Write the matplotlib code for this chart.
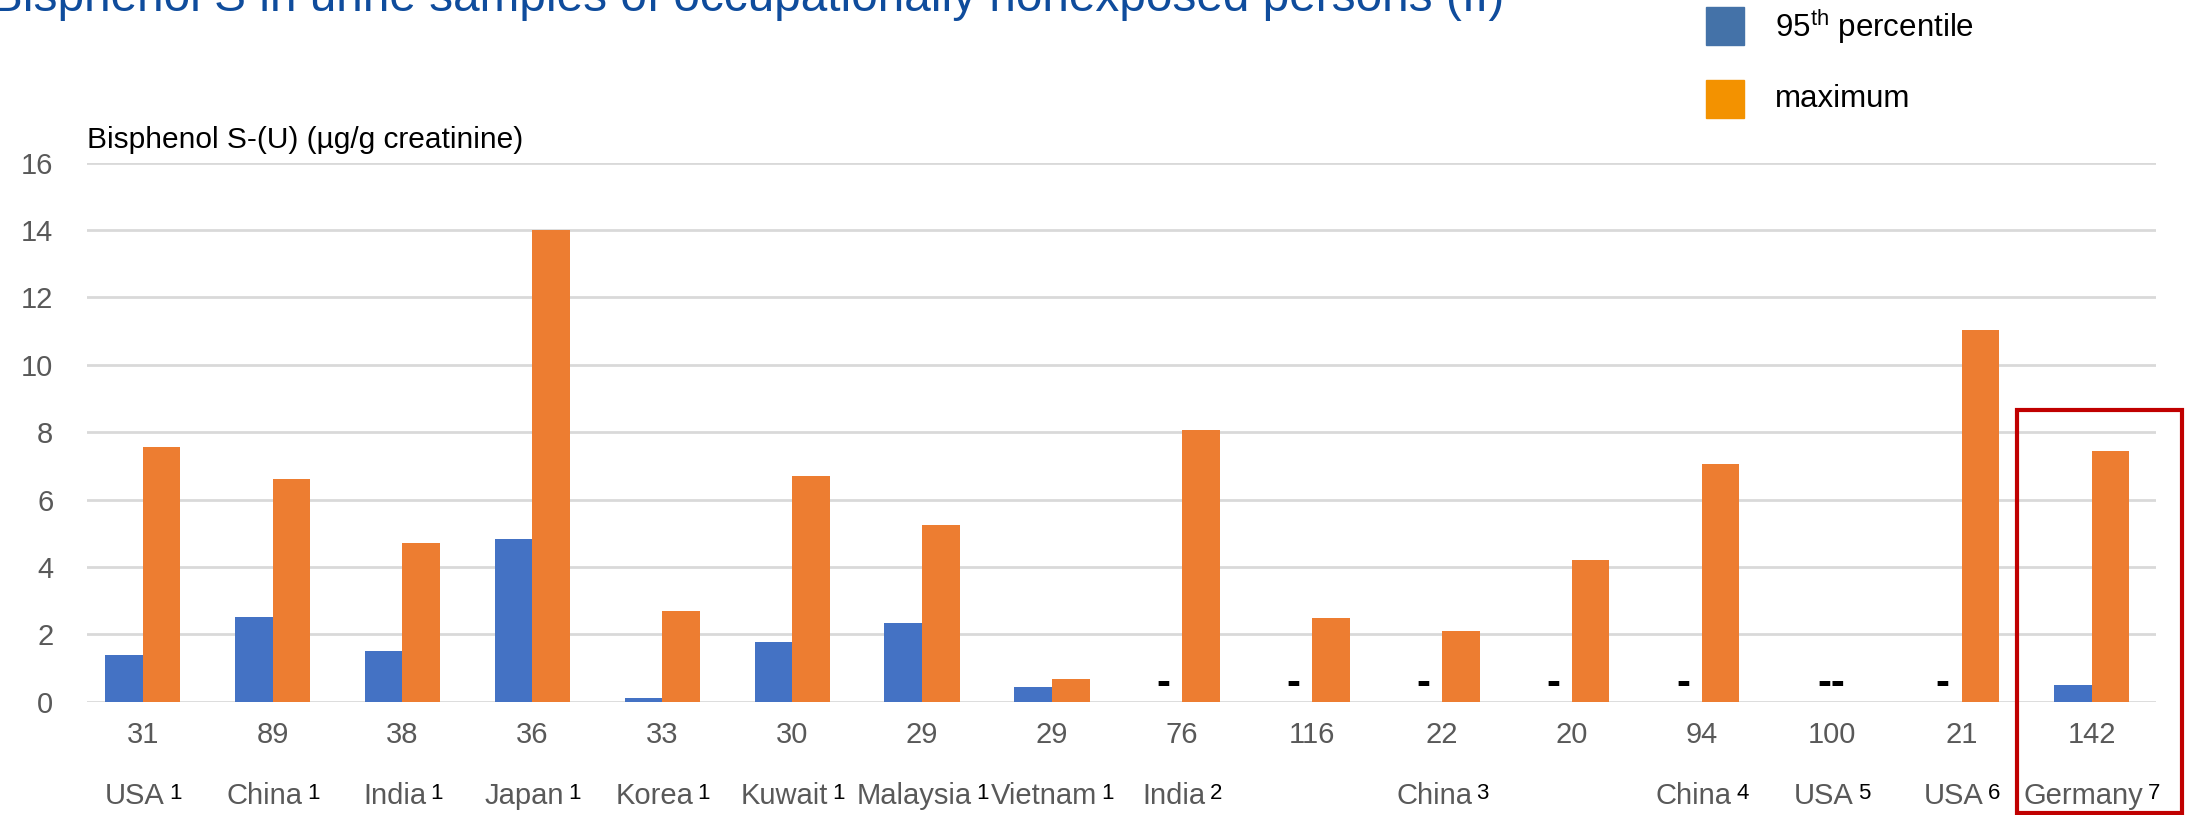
import numpy as np
import matplotlib
matplotlib.use("Agg")
import matplotlib.pyplot as plt
from matplotlib.patches import Rectangle

plt.rcParams['font.family'] = ['Liberation Sans', 'DejaVu Sans']

## study groups (country, reference number) and sample sizes
countries = ["USA", "China", "India", "Japan", "Korea", "Kuwait", "Malaysia", "Vietnam",
             "India", "", "China", "", "China", "USA", "USA", "Germany"]
refs = ["1", "1", "1", "1", "1", "1", "1", "1", "2", "", "3", "", "4", "5", "6", "7"]
n_samples = ["31", "89", "38", "36", "33", "30", "29", "29",
             "76", "116", "22", "20", "94", "100", "21", "142"]

## Bisphenol S-(U) in ug/g creatinine (nan = not reported)
p95 = [1.4, 2.52, 1.5, 4.82, 0.12, 1.78, 2.35, 0.45,
       np.nan, np.nan, np.nan, np.nan, np.nan, np.nan, np.nan, 0.5]
maximum = [7.56, 6.62, 4.71, 14.0, 2.7, 6.69, 5.24, 0.67,
           8.06, 2.49, 2.11, 4.2, 7.06, np.nan, 11.02, 7.43]

blue = "#4472C4"
orange = "#ED7D31"
grey = "#595959"

fig = plt.figure(figsize=(21.96, 8.15), dpi=100)
ax = fig.add_axes([0.0395, 0.139, 0.9425, 0.6616])

x = np.arange(len(countries))
w = 0.29
ax.bar(x - w / 2, p95, w, color=blue, zorder=3)
ax.bar(x + w / 2, maximum, w, color=orange, zorder=3)

## mark missing values with dashes
for i in x:
    if np.isnan(p95[i]) and np.isnan(maximum[i]):
        ax.text(i, 0.53, "--", ha="center", va="center", fontsize=30,
                fontweight="bold", color="black")
    elif np.isnan(p95[i]):
        ax.text(i - w / 2, 0.53, "-", ha="center", va="center", fontsize=30,
                fontweight="bold", color="black")

ax.set_xlim(-0.43, 15.5)
ax.set_ylim(0, 16)
ax.set_yticks(np.arange(0, 17, 2))
ax.yaxis.grid(True, color="#D9D9D9", linewidth=2, zorder=0)
ax.set_axisbelow(True)
for s in ax.spines.values():
    s.set_visible(False)
ax.tick_params(axis="y", length=0, pad=24, labelsize=21, labelcolor=grey)
ax.set_xticks(x)
ax.set_xticklabels(n_samples)
ax.tick_params(axis="x", length=0, pad=14, labelsize=21, labelcolor=grey)

## country names with black superscript reference numbers
for i in x:
    if not countries[i]:
        continue
    t = ax.text(i - 0.06, -0.175, countries[i], transform=ax.get_xaxis_transform(),
                ha="center", va="center", fontsize=21, color=grey)
    ax.annotate(refs[i], xy=(1, 1), xycoords=t, xytext=(3, -1),
                textcoords="offset points", ha="left", va="top",
                fontsize=16, color="black")

## y-axis label sits above the plot
fig.text(0.0395, 0.828, "Bisphenol S-(U) (\u00b5g/g creatinine)", fontsize=21.5,
         color="black", ha="left", va="center")

## title, mostly above the top of the figure
fig.text(-0.004, 0.9865, "Bisphenol S in urine samples of occupationally nonexposed persons (II)",
         fontsize=34.4, color="#0F4C9C", ha="left", va="baseline")

## legend
fig.add_artist(Rectangle((1706 / 2196, 1 - 45 / 815), 38 / 2196, 38 / 815,
                         transform=fig.transFigure, color="#4472A8"))
fig.add_artist(Rectangle((1706 / 2196, 1 - 118 / 815), 38 / 2196, 38 / 815,
                         transform=fig.transFigure, color="#F39200"))
fig.text(1775 / 2196, 1 - 27 / 815, "95$^{\\mathregular{th}}$ percentile", fontsize=22.5,
         color="black", ha="left", va="center")
fig.text(1775 / 2196, 1 - 99 / 815, "maximum", fontsize=22.5,
         color="black", ha="left", va="center")

## highlight box round the Germany group
fig.add_artist(Rectangle((2017 / 2196, 2 / 815), 165 / 2196, 403 / 815,
                         transform=fig.transFigure, fill=False,
                         edgecolor="#C00000", linewidth=3))

fig.savefig("out.png", dpi=100)
